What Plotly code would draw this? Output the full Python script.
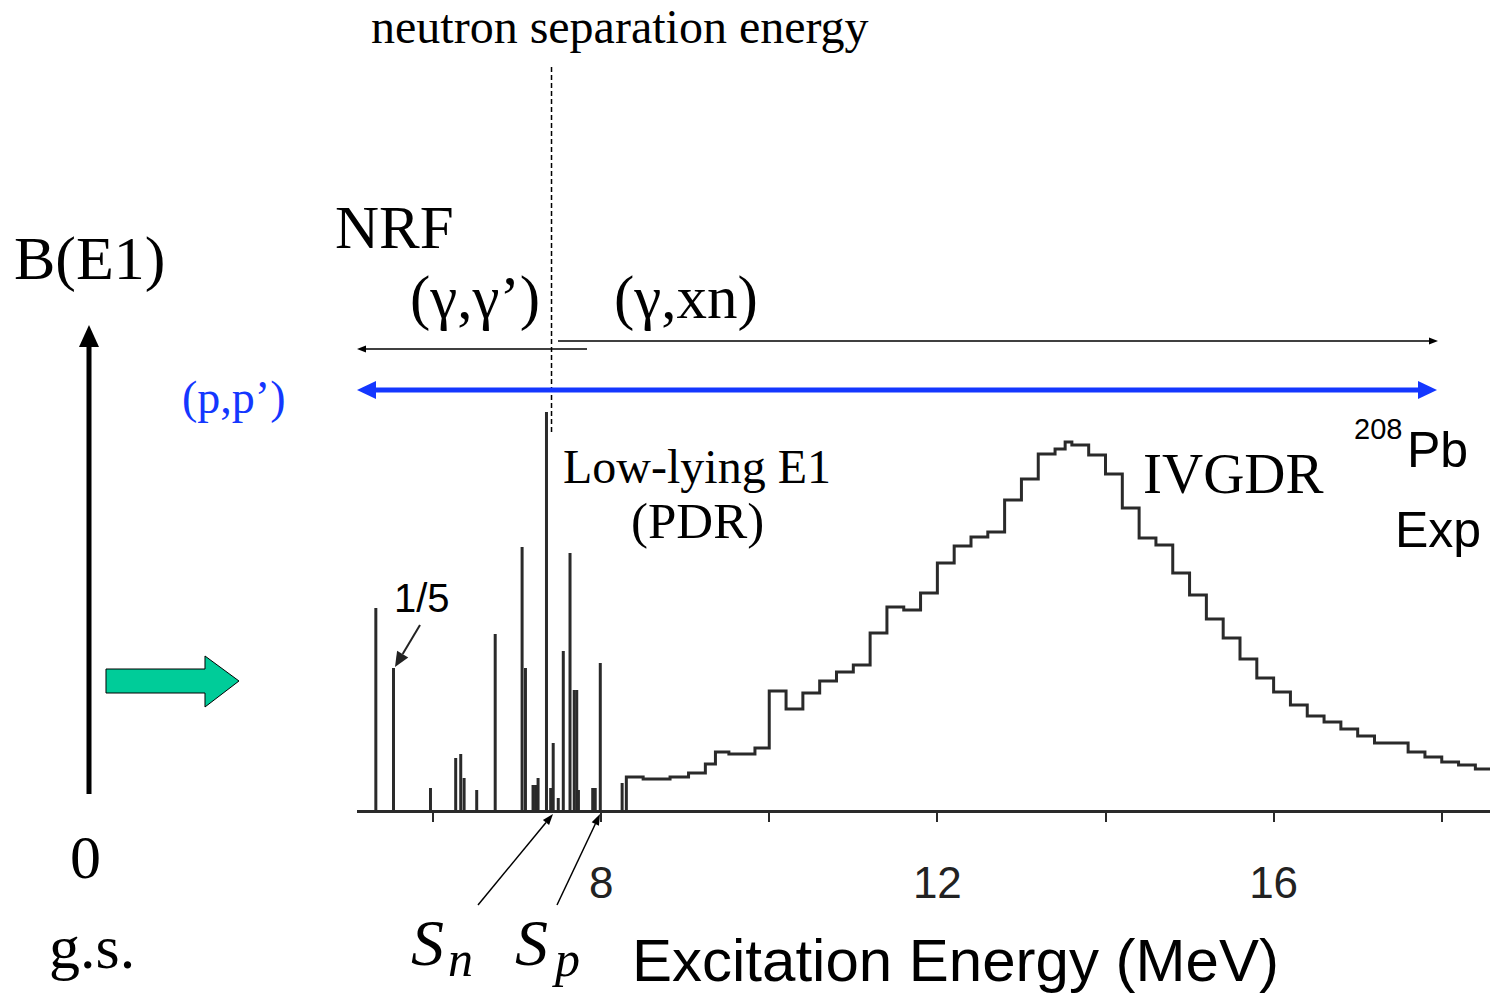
import math
import plotly.graph_objects as go

# ---------------- data ----------------
# discrete (NRF) E1 transitions: energy (MeV), strength (arb. units)
stick_energy = [5.32, 5.53, 5.97, 6.27, 6.33, 6.37, 6.52, 6.74, 7.06, 7.10, 7.19, 7.22, 7.25,
                7.35, 7.40, 7.43, 7.49, 7.55, 7.63, 7.68, 7.71, 7.73, 7.90, 7.93, 7.99, 8.25]
stick_strength = [202, 142, 22, 52, 56, 32, 20, 176, 263, 142, 25, 25, 32,
                  398, 22, 67, 12, 159, 257, 120, 120, 20, 22, 22, 147, 27]

# (gamma,xn) histogram: bin edges (MeV) and strength (arb. units)
hist_edges = [8.30, 8.50, 8.82, 9.04, 9.24, 9.36, 9.52, 9.83, 10.0, 10.2, 10.4, 10.6, 10.8,
              11.0, 11.2, 11.4, 11.6, 11.8, 12.0, 12.2, 12.4, 12.6, 12.8, 13.0, 13.2, 13.4,
              13.52, 13.6, 13.8, 14.0, 14.2, 14.4, 14.6, 14.8, 15.0, 15.2, 15.4, 15.6, 15.8,
              16.0, 16.2, 16.4, 16.6, 16.8, 17.0, 17.2, 17.6, 17.8, 18.0, 18.2, 18.4, 18.6]
hist_strength = [33, 31, 33, 37, 46, 58, 56, 62, 119, 101, 117, 129, 138, 145, 177, 203, 200,
                 217, 247, 264, 273, 278, 310, 331, 356, 361, 368, 365, 355, 336, 302, 272,
                 265, 237, 215, 191, 172, 151, 132, 118, 105, 94, 88, 81, 74, 67, 58, 53, 48,
                 45, 41]

tick_values = [8, 12, 16]
tick_labels = ["8", "12", "16"]
minor_tick_values = [6, 10, 14, 18]

S_n = 7.41   # neutron separation energy (MeV)

W, H = 1490, 993
SERIF = "Liberation Serif, Times New Roman, serif"
SANS = "Liberation Sans, Arial, sans-serif"
BLUE = "#1437ff"


def X(p):
    return p / W


def Y(p):
    return 1 - p / H


# ---------------- traces ----------------
sx, sy = [], []
for e, s in zip(stick_energy, stick_strength):
    sx += [e, e, None]
    sy += [0, s, None]

fig = go.Figure()
fig.add_trace(go.Scatter(x=sx, y=sy, mode="lines",
                         line=dict(color="#2a2a2a", width=3), hoverinfo="skip"))
fig.add_trace(go.Scatter(x=[hist_edges[0]] + hist_edges,
                         y=[0] + hist_strength + [hist_strength[-1]],
                         mode="lines", line=dict(color="#2a2a2a", width=3, shape="hv"),
                         hoverinfo="skip"))

shapes = []
annotations = []


def txt(t, x, y, size, family=SERIF, color="black", xanchor="center", **kw):
    annotations.append(dict(text=t, x=X(x), y=Y(y), xref="paper", yref="paper",
                            showarrow=False, xanchor=xanchor, yanchor="middle",
                            font=dict(size=size, family=family, color=color), **kw))


def seg(x0, y0, x1, y1, color="black", width=2, dash=None):
    ln = dict(color=color, width=width)
    if dash:
        ln["dash"] = dash
    shapes.append(dict(type="line", xref="paper", yref="paper",
                       x0=X(x0), y0=Y(y0), x1=X(x1), y1=Y(y1), line=ln))


def poly(pts, fill, line_color=None, lw=0):
    d = "M " + " L ".join(f"{X(a):.5f},{Y(b):.5f}" for a, b in pts) + " Z"
    shapes.append(dict(type="path", xref="paper", yref="paper", path=d,
                       fillcolor=fill, line=dict(color=line_color or fill, width=lw)))


def arrow(x0, y0, x1, y1, head_len, half_w, width, color="black"):
    dx, dy = x1 - x0, y1 - y0
    L = math.hypot(dx, dy)
    ux, uy = dx / L, dy / L
    bx, by = x1 - head_len * ux, y1 - head_len * uy
    nx, ny = -uy, ux
    seg(x0, y0, bx, by, color=color, width=width)
    poly([(x1, y1), (bx + half_w * nx, by + half_w * ny), (bx - half_w * nx, by - half_w * ny)],
         color)


# neutron separation energy dashed line
shapes.append(dict(type="line", xref="x", yref="paper", x0=S_n, x1=S_n,
                   y0=Y(432), y1=Y(65), line=dict(color="black", width=1.5, dash="5px,3px")))

# (gamma,gamma') arrow to the left
arrow(587, 349, 357, 349, 9, 3.5, 1.5)
# (gamma,xn) arrow to the right
arrow(558, 341, 1438, 341, 9, 3.5, 1.5)
# (p,p') double arrow
seg(372, 390, 1422, 390, color=BLUE, width=5)
poly([(357, 390), (376, 381), (376, 399)], BLUE)
poly([(1437, 390), (1418, 381), (1418, 399)], BLUE)

# B(E1) vertical arrow
arrow(89, 794, 89, 325, 22, 10, 5)
# green block arrow
poly([(106, 669), (205, 669), (205, 656), (239, 681), (205, 707), (205, 693), (106, 693)],
     "#00cc99", line_color="black", lw=1)

# arrows of 1/5, Sn, Sp
arrow(420, 625, 395, 667, 15, 6.5, 2, color="#222")
arrow(478, 905, 553, 814, 11, 4, 1.5)
arrow(557, 905, 600, 814, 11, 4, 1.5)

# ---------------- texts ----------------
txt("neutron separation energy", 620, 27, 48)
txt("NRF", 394, 228, 61)
txt("(γ,γ’)", 475, 298, 61)
txt("(γ,xn)", 686, 298, 61)
txt("B(E1)", 90, 258, 62)
txt("(p,p’)", 233, 397, 46, color=BLUE)
txt("0", 85, 857, 62)
txt("g.s.", 92, 947, 62)
txt("Low-lying E1", 697, 466, 48)
txt("(PDR)", 697, 521, 51)
txt("IVGDR", 1233, 473, 57)
txt("208", 1378, 429, 29, family=SANS)
txt("Pb", 1437, 450, 50, family=SANS)
txt("Exp", 1438, 530, 50, family=SANS)
txt("1/5", 422, 598, 40, family=SANS)
txt("Excitation Energy (MeV)", 955, 960, 60, family=SANS)
txt("<i>S</i>", 446, 942, 66, xanchor="right")
txt("<i>n</i>", 446, 959, 50, xanchor="left")
txt("<i>S</i>", 550, 942, 66, xanchor="right")
txt("<i>p</i>", 550, 959, 50, xanchor="left")

fig.update_layout(
    width=W, height=H, margin=dict(l=0, r=0, t=0, b=0),
    paper_bgcolor="white", plot_bgcolor="white", showlegend=False,
    shapes=shapes, annotations=annotations,
    xaxis=dict(domain=[357 / W, 1], range=[5.096, 18.574], showgrid=False, zeroline=False,
               showline=True, linecolor="#2a2a2a", linewidth=3,
               ticks="outside", ticklen=9, tickwidth=2, tickcolor="#2a2a2a",
               tickvals=tick_values, ticktext=tick_labels,
               minor=dict(tickvals=minor_tick_values, ticks="outside", ticklen=9,
                          tickwidth=2, tickcolor="#2a2a2a", showgrid=False),
               tickfont=dict(size=44, family=SANS, color="#222"), ticklabelstandoff=23),
    yaxis=dict(domain=[1 - 810 / H, 1], range=[0, 810], visible=False),
)

fig.write_html("out.html")
